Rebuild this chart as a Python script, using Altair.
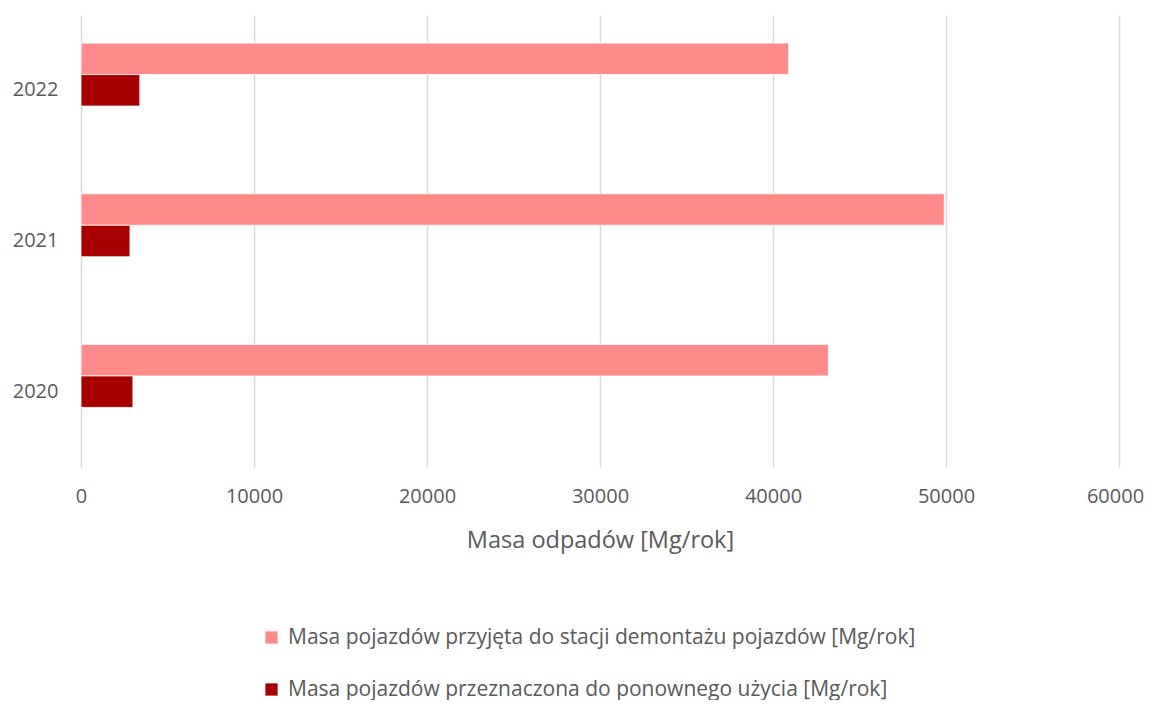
import altair as alt
import pandas as pd

years = ["2022", "2021", "2020"]
series_names = [
    "Masa pojazdów przyjęta do stacji demontażu pojazdów [Mg/rok]",
    "Masa pojazdów przeznaczona do ponownego użycia [Mg/rok]",
]
received = [40900, 49900, 43200]
reused = [3400, 2830, 3000]
colors = ["#FF8A8A", "#A80000"]

rows = []
for y, a, b in zip(years, received, reused):
    rows.append({"year": y, "series": series_names[0], "value": a})
    rows.append({"year": y, "series": series_names[1], "value": b})
df = pd.DataFrame(rows)

FONT = "Open Sans"
GREY = "#595959"

chart = alt.Chart(df).mark_bar(stroke="white", strokeWidth=0.8).encode(
    x=alt.X(
        "value:Q",
        scale=alt.Scale(domain=[0, 60000], nice=False),
        axis=alt.Axis(
            title="Masa odpadów [Mg/rok]",
            values=[0, 10000, 20000, 30000, 40000, 50000, 60000],
            format="d",
            grid=True,
            gridColor="#D9D9D9",
            gridWidth=1.5,
            domain=False,
            ticks=False,
            labelFlush=False,
            labelOffset={"condition": {"test": "datum.value == 60000", "value": -4}, "value": 0},
            labelPadding=19,
            labelFontSize=20,
            labelColor=GREY,
            labelFont=FONT,
            titleFont=FONT,
            titleFontSize=23.5,
            titleFontWeight="normal",
            titleColor=GREY,
            titlePadding=22,
        ),
    ),
    y=alt.Y(
        "year:N",
        sort=years,
        scale=alt.Scale(paddingInner=0.373, paddingOuter=0.1865),
        axis=alt.Axis(
            title=None,
            domain=False,
            ticks=False,
            grid=False,
            labelPadding=23,
            labelFontSize=20,
            labelColor=GREY,
            labelFont=FONT,
        ),
    ),
    yOffset=alt.YOffset(
        "series:N",
        scale=alt.Scale(domain=series_names + ["_empty"], paddingInner=0, paddingOuter=0),
    ),
    color=alt.Color(
        "series:N",
        scale=alt.Scale(domain=series_names, range=colors),
        legend=alt.Legend(
            title=None,
            orient="none",
            legendX=180,
            legendY=612,
            direction="vertical",
            symbolType="square",
            symbolSize=150,
            symbolStrokeWidth=0,
            symbolOffset=0,
            labelFontSize=21,
            labelFont=FONT,
            labelColor=GREY,
            labelLimit=1000,
            labelOffset=6,
            rowPadding=30,
        ),
    ),
).properties(
    width=1038,
    height=452,
    background="white",
    autosize=alt.AutoSizeParams(type="none"),
    padding={"left": 73, "top": 7, "right": 26, "bottom": 233},
).configure_view(strokeWidth=0)

chart.save("out.html", embed_options={"renderer": "svg", "actions": False})
